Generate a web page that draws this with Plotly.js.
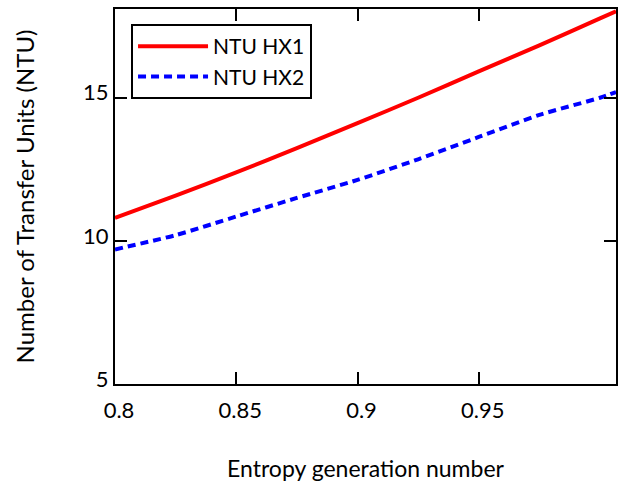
<!DOCTYPE html>
<html>
<head>
<meta charset="utf-8">
<script src="https://cdn.plot.ly/plotly-3.0.1.min.js"></script>
<style>html,body{margin:0;padding:0;background:#fff;}#chart{width:621px;height:485px;}</style>
</head>
<body>
<div id="chart"></div>
<script>
const xValues = [0.8, 0.825, 0.85, 0.875, 0.9, 0.925, 0.95, 0.975, 1.0, 1.0066];
const ntuHX1 = [10.8, 11.58, 12.39, 13.24, 14.11, 15.0, 15.92, 16.83, 17.77, 18.02];
const ntuHX2 = [9.7, 10.2, 10.85, 11.5, 12.13, 12.85, 13.63, 14.4, 15.0, 15.2];
const seriesNames = ["NTU HX1", "NTU HX2"];
const xTicks = [0.8, 0.85, 0.9, 0.95];
const xTickLabels = ["0.8", "0.85", "0.9", "0.95"];
const yTicks = [5, 10, 15];
const yTickLabels = ["5", "10", "15"];

const font = "Lato, 'Open Sans', sans-serif";
const traces = [
  {x: xValues, y: ntuHX1, name: seriesNames[0], mode: "lines",
   line: {color: "#ff0000", width: 4, shape: "spline", smoothing: 0.6}},
  {x: xValues, y: ntuHX2, name: seriesNames[1], mode: "lines",
   line: {color: "#0000ff", width: 4, dash: "8px,5px", shape: "spline", smoothing: 0.6}}
];
const axisCommon = {
  showline: true, linecolor: "#000", linewidth: 2, mirror: "ticks",
  ticks: "inside", ticklen: 12, tickwidth: 2, tickcolor: "#000",
  showgrid: false, zeroline: false,
  tickfont: {family: font, size: 22, color: "#000"}
};
const layout = {
  width: 621, height: 485,
  margin: {l: 115, r: 5, t: 9, b: 101},
  paper_bgcolor: "#fff", plot_bgcolor: "#fff",
  showlegend: true,
  legend: {x: 0.032, y: 0.96, xanchor: "left", yanchor: "top",
    bordercolor: "#000", borderwidth: 2, bgcolor: "#fff", itemwidth: 70,
    font: {family: font, size: 21, color: "#000"}},
  xaxis: Object.assign({}, axisCommon, {
    range: [0.8, 1.0066], tickvals: xTicks, ticktext: xTickLabels,
    ticklabelstandoff: 6, ticklabelshift: 4,
    title: {text: "Entropy generation number", font: {family: font, size: 23, color: "#000"}, standoff: 38}
  }),
  yaxis: Object.assign({}, axisCommon, {
    range: [5, 18.1], tickvals: yTicks, ticktext: yTickLabels,
    ticklabelshift: -5,
    title: {text: "Number of Transfer Units (NTU)", font: {family: font, size: 24, color: "#000"}, standoff: 42}
  })
};
Plotly.newPlot("chart", traces, layout, {displayModeBar: false, staticPlot: true});
</script>
</body>
</html>
